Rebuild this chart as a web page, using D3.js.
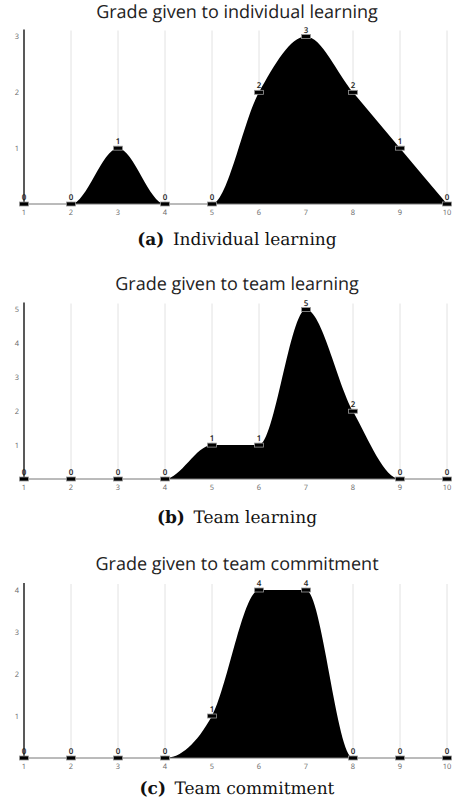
<!DOCTYPE html>
<html>
<head>
<meta charset="utf-8">
<script src="https://cdn.jsdelivr.net/npm/d3@7"></script>
<style>
  body { margin: 0; background: #fff; }
  svg { display: block; }
  .title { font-family: 'Open Sans', sans-serif; font-size: 18px; fill: #222; }
  .caption { font-family: 'DejaVu Serif', serif; font-size: 17px; fill: #111; }
  .tick-label { font-family: 'Open Sans', sans-serif; font-size: 7.5px; fill: #666; }
  .value { font-family: 'Open Sans', sans-serif; font-size: 8px; font-weight: 600; fill: #222; }
</style>
</head>
<body>
<script>
const grades = [1, 2, 3, 4, 5, 6, 7, 8, 9, 10];
const individual_learning = [0, 0, 1, 0, 0, 2, 3, 2, 1, 0];
const team_learning = [0, 0, 0, 0, 1, 1, 5, 2, 0, 0];
const team_commitment = [0, 0, 0, 0, 1, 4, 4, 0, 0, 0];
const titles = [
  'Grade given to individual learning',
  'Grade given to team learning',
  'Grade given to team commitment',
];
const caption_tags = ['(a)', '(b)', '(c)'];
const caption_texts = ['Individual learning', 'Team learning', 'Team commitment'];

const W = 474, H = 801;
// vertical layout of each panel: title baseline, top value, zero line, caption
const panels = [
  { values: individual_learning, titleY: 18, top: 36.5, zero: 204, captionY: 245 },
  { values: team_learning, titleY: 290, top: 309.5, zero: 479, captionY: 523 },
  { values: team_commitment, titleY: 570, top: 590, zero: 758, captionY: 794 },
];

const svg = d3.select('body').append('svg')
  .attr('width', W)
  .attr('height', H)
  .style('text-rendering', 'geometricPrecision');

const x = d3.scaleLinear().domain([1, 10]).range([24, 447]);

panels.forEach((p, i) => {
  const data = grades.map((g, j) => ({ grade: g, value: p.values[j] }));
  const ymax = d3.max(p.values);
  const y = d3.scaleLinear().domain([0, ymax]).range([p.zero, p.top]);
  const g = svg.append('g').attr('class', 'panel');

  g.append('text').attr('class', 'title')
    .attr('x', W / 2).attr('y', p.titleY)
    .attr('text-anchor', 'middle')
    .text(titles[i]);

  // vertical grid
  g.selectAll('line.grid').data(grades.slice(1)).join('line')
    .attr('class', 'grid')
    .attr('x1', d => x(d)).attr('x2', d => x(d))
    .attr('y1', p.top - 6).attr('y2', p.zero)
    .attr('stroke', '#e2e2e2').attr('stroke-width', 1);

  // area
  const area = d3.area()
    .x(d => x(d.grade))
    .y0(p.zero)
    .y1(d => y(d.value))
    .curve(d3.curveMonotoneX);
  g.append('path').datum(data)
    .attr('d', area)
    .attr('fill', '#000');

  // x baseline
  g.append('line')
    .attr('x1', x(1)).attr('x2', x(10))
    .attr('y1', p.zero).attr('y2', p.zero)
    .attr('stroke', '#777').attr('stroke-width', 1);

  // y axis
  g.append('line')
    .attr('x1', x(1)).attr('x2', x(1))
    .attr('y1', p.top - 7).attr('y2', p.zero)
    .attr('stroke', '#222').attr('stroke-width', 1.5);

  g.selectAll('text.ytick').data(d3.range(1, ymax + 1)).join('text')
    .attr('class', 'tick-label ytick')
    .attr('x', 19).attr('y', d => y(d) + 2.5)
    .attr('text-anchor', 'end')
    .text(d => d);

  g.selectAll('text.xtick').data(grades).join('text')
    .attr('class', 'tick-label xtick')
    .attr('x', d => x(d)).attr('y', p.zero + 11)
    .attr('text-anchor', 'middle')
    .text(d => d);

  // point markers
  g.selectAll('rect.marker').data(data).join('rect')
    .attr('class', 'marker')
    .attr('x', d => x(d.grade) - 4.5)
    .attr('y', d => y(d.value) - 2)
    .attr('width', 9).attr('height', 4)
    .attr('fill', '#000')
    .attr('stroke', '#999').attr('stroke-width', 0.8);

  g.selectAll('text.value').data(data).join('text')
    .attr('class', 'value')
    .attr('x', d => x(d.grade)).attr('y', d => y(d.value) - 4)
    .attr('text-anchor', 'middle')
    .text(d => d.value);

  const cap = g.append('text').attr('class', 'caption')
    .attr('x', W / 2).attr('y', p.captionY)
    .attr('text-anchor', 'middle');
  cap.append('tspan').attr('font-weight', 'bold').text(caption_tags[i]);
  cap.append('tspan').text('\u2002' + caption_texts[i]);
});
</script>
</body>
</html>
